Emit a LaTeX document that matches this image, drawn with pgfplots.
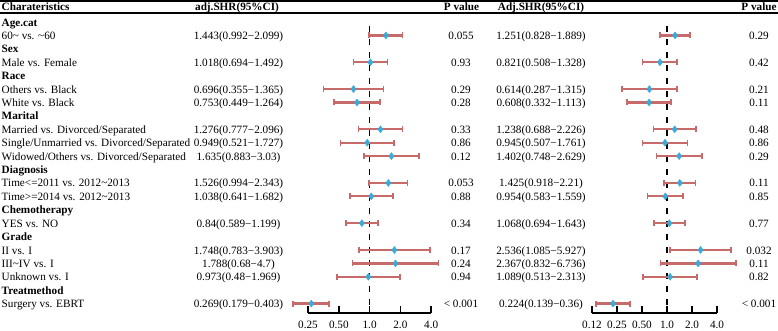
\documentclass[border=0pt]{standalone}
\usepackage{fontspec}
\setmainfont{Liberation Serif}
\usepackage{pgfplots}
\usepackage{pgfplotstable}
\pgfplotsset{compat=1.18}
\definecolor{cicol}{RGB}{198,106,106}
\definecolor{ptcol}{RGB}{58,170,216}
\newcommand{\fs}{\fontsize{11.2}{13}\selectfont}

\pgfplotstableread{
row est lo hi
2 1.443 0.992 2.099
4 1.018 0.694 1.492
6 0.696 0.355 1.365
7 0.753 0.449 1.264
9 1.276 0.777 2.096
10 0.949 0.521 1.727
11 1.635 0.883 3.03
13 1.526 0.994 2.343
14 1.038 0.641 1.682
16 0.84 0.589 1.199
18 1.748 0.783 3.903
19 1.788 0.68 4.7
20 0.973 0.48 1.969
22 0.269 0.179 0.403
}\modelA

\pgfplotstableread{
row est lo hi
2 1.251 0.828 1.889
4 0.821 0.508 1.328
6 0.614 0.287 1.315
7 0.608 0.332 1.113
9 1.238 0.688 2.226
10 0.945 0.507 1.761
11 1.402 0.748 2.629
13 1.425 0.918 2.21
14 0.954 0.583 1.559
16 1.068 0.694 1.643
18 2.536 1.085 5.927
19 2.367 0.832 6.736
20 1.089 0.513 2.313
22 0.224 0.139 0.36
}\modelB

\newcommand{\grp}[2]{\node[anchor=base west, font=\fs\bfseries] at (1.5,{12.62+13.41*#1}) {#2};}
\newcommand{\rowtxt}[6]{%
  \node[anchor=base west] at (1.5,{12.62+13.41*#1}) {#2};
  \node[anchor=base] at (238.5,{12.62+13.41*#1}) {#3};
  \node[anchor=base] at (461,{12.62+13.41*#1}) {#4};
  \node[anchor=base] at (541,{12.62+13.41*#1}) {#5};
  \node[anchor=base] at (759,{12.62+13.41*#1}) {#6};
}

\begin{document}
\begin{tikzpicture}
\path[use as bounding box] (0pt,0pt) rectangle (778pt,-331pt);

\begin{axis}[at={(308pt,-313pt)}, anchor=south west,
  scale only axis, width=123.2pt, height=304.38pt,
  xmode=log, log basis x=2,
  xmin=0.25, xmax=4, ymin=-22.70, ymax=0,
  axis y line=none, axis x line*=bottom, clip=false,
  x axis line style={-, line width=1.6pt},
  xtick align=inside, major tick length=7pt,
  tick style={line width=1.6pt, black},
  xticklabel style={font=\fs, yshift=-4.5pt},
  xtick={0.25,0.5,1,2,4}, xticklabels={0.25,0.50,1.0,2.0,4.0}]
  \addplot[black, line width=1.3pt, dash pattern=on 6pt off 7pt] coordinates {(1,-1.3) (1,-22.70)};
  \addplot[only marks, mark=diamond*, mark size=3.5pt,
    mark options={fill=ptcol, draw=ptcol},
    error bars/x dir=both, error bars/x explicit,
    error bars/error bar style={cicol, line width=2.3pt},
    error bars/error mark=|,
    error bars/error mark options={cicol, line width=1.7pt, mark size=3pt}]
    table[x=est, y expr=-\thisrow{row},
     x error plus expr=\thisrow{hi}-\thisrow{est},
     x error minus expr=\thisrow{est}-\thisrow{lo}] {\modelA};
\end{axis}

\begin{axis}[at={(592pt,-313pt)}, anchor=south west,
  scale only axis, width=125pt, height=304.38pt,
  xmode=log, log basis x=2,
  xmin=0.125, xmax=4, ymin=-22.70, ymax=0,
  axis y line=none, axis x line*=bottom, clip=false,
  x axis line style={-, line width=1.6pt},
  xtick align=inside, major tick length=7pt,
  tick style={line width=1.6pt, black},
  xticklabel style={font=\fs, yshift=-4.5pt},
  xtick={0.125,0.25,0.5,1,2,4}, xticklabels={0.12,0.25,0.50,1.0,2.0,4.0}]
  \addplot[black, line width=1.3pt, dash pattern=on 6pt off 7pt] coordinates {(1,-1.3) (1,-22.70)};
  \addplot[only marks, mark=diamond*, mark size=3.5pt,
    mark options={fill=ptcol, draw=ptcol},
    error bars/x dir=both, error bars/x explicit,
    error bars/error bar style={cicol, line width=2.3pt},
    error bars/error mark=|,
    error bars/error mark options={cicol, line width=1.7pt, mark size=3pt}]
    table[x=est, y expr=-\thisrow{row},
     x error plus expr=\thisrow{hi}-\thisrow{est},
     x error minus expr=\thisrow{est}-\thisrow{lo}] {\modelB};
\end{axis}

\begin{scope}[x=1pt, y=-1pt, every node/.style={font=\fs, inner sep=0pt}]
  \draw[line width=1.6pt] (0,0.8) -- (778,0.8);
  \draw[line width=1.6pt] (0,13.2) -- (778,13.2);
  \node[anchor=base west, font=\fs\bfseries] at (1.5,10.4) {Charateristics};
  \node[anchor=base, font=\fs\bfseries] at (237,10.4) {adj.SHR(95\%CI)};
  \node[anchor=base, font=\fs\bfseries] at (461.5,10.4) {P value};
  \node[anchor=base, font=\fs\bfseries] at (541,10.4) {Adj.SHR(95\%CI)};
  \node[anchor=base, font=\fs\bfseries] at (759,10.4) {P value};

  \grp{1}{Age.cat}
  \rowtxt{2}{60\textasciitilde{} vs. \textasciitilde60}{1.443(0.992−2.099)}{0.055}{1.251(0.828−1.889)}{0.29}
  \grp{3}{Sex}
  \rowtxt{4}{Male vs. Female}{1.018(0.694−1.492)}{0.93}{0.821(0.508−1.328)}{0.42}
  \grp{5}{Race}
  \rowtxt{6}{Others vs. Black}{0.696(0.355−1.365)}{0.29}{0.614(0.287−1.315)}{0.21}
  \rowtxt{7}{White vs. Black}{0.753(0.449−1.264)}{0.28}{0.608(0.332−1.113)}{0.11}
  \grp{8}{Marital}
  \rowtxt{9}{Married vs. Divorced/Separated}{1.276(0.777−2.096)}{0.33}{1.238(0.688−2.226)}{0.48}
  \rowtxt{10}{Single/Unmarried vs. Divorced/Separated}{0.949(0.521−1.727)}{0.86}{0.945(0.507−1.761)}{0.86}
  \rowtxt{11}{Widowed/Others vs. Divorced/Separated}{1.635(0.883−3.03)}{0.12}{1.402(0.748−2.629)}{0.29}
  \grp{12}{Diagnosis}
  \rowtxt{13}{Time<=2011 vs. 2012\textasciitilde2013}{1.526(0.994−2.343)}{0.053}{1.425(0.918−2.21)}{0.11}
  \rowtxt{14}{Time>=2014 vs. 2012\textasciitilde2013}{1.038(0.641−1.682)}{0.88}{0.954(0.583−1.559)}{0.85}
  \grp{15}{Chemotherapy}
  \rowtxt{16}{YES vs. NO}{0.84(0.589−1.199)}{0.34}{1.068(0.694−1.643)}{0.77}
  \grp{17}{Grade}
  \rowtxt{18}{II vs. I}{1.748(0.783−3.903)}{0.17}{2.536(1.085−5.927)}{0.032}
  \rowtxt{19}{III\textasciitilde IV vs. I}{1.788(0.68−4.7)}{0.24}{2.367(0.832−6.736)}{0.11}
  \rowtxt{20}{Unknown vs. I}{0.973(0.48−1.969)}{0.94}{1.089(0.513−2.313)}{0.82}
  \grp{21}{Treatmethod}
  \rowtxt{22}{Surgery vs. EBRT}{0.269(0.179−0.403)}{< 0.001}{0.224(0.139−0.36)}{< 0.001}
\end{scope}
\end{tikzpicture}
\end{document}
